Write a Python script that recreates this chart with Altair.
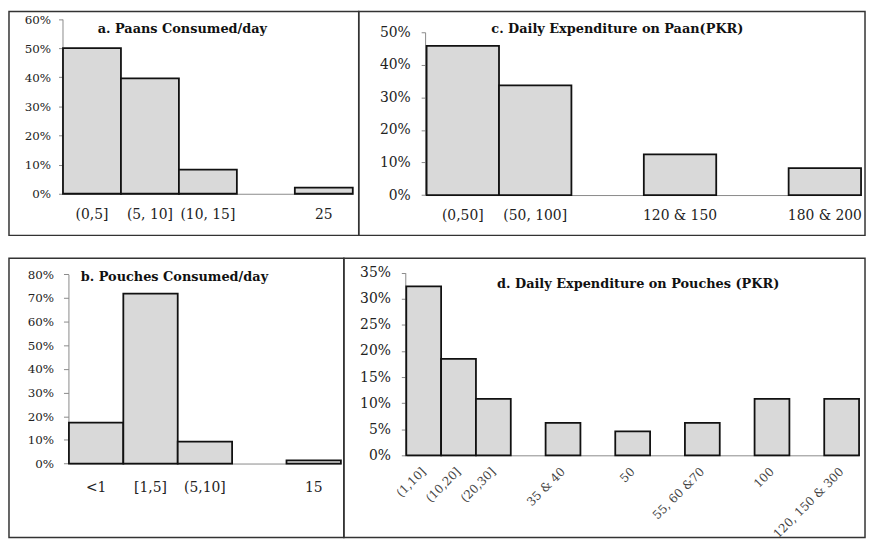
import altair as alt
import pandas as pd

FONT = "DejaVu Serif"

# ---- data -------------------------------------------------------------
a_slots = ["(0,5]", "(5, 10]", "(10, 15]", " ", "25"]
a_cats = ["(0,5]", "(5, 10]", "(10, 15]", "25"]
a_vals = [0.500, 0.396, 0.083, 0.021]
a_ticks = [0, 0.1, 0.2, 0.3, 0.4, 0.5, 0.6]
a_title = "a. Paans Consumed/day"

c_slots = ["(0,50]", "(50, 100]", " ", "120 & 150", "  ", "180 & 200"]
c_cats = ["(0,50]", "(50, 100]", "120 & 150", "180 & 200"]
c_vals = [0.458, 0.337, 0.125, 0.083]
c_ticks = [0, 0.1, 0.2, 0.3, 0.4, 0.5]
c_title = "c. Daily Expenditure on Paan(PKR)"

b_slots = ["<1", "[1,5]", "(5,10]", " ", "15"]
b_cats = ["<1", "[1,5]", "(5,10]", "15"]
b_vals = [0.173, 0.718, 0.093, 0.013]
b_ticks = [0, 0.1, 0.2, 0.3, 0.4, 0.5, 0.6, 0.7, 0.8]
b_title = "b. Pouches Consumed/day"

d_slots = ["(1,10]", "(10,20]", "(20,30]", " ", "35 & 40", "  ", "50", "   ",
           "55, 60 &70", "    ", "100", "     ", "120, 150 & 300"]
d_cats = ["(1,10]", "(10,20]", "(20,30]", "35 & 40", "50", "55, 60 &70", "100",
          "120, 150 & 300"]
d_vals = [0.324, 0.185, 0.108, 0.062, 0.046, 0.062, 0.108, 0.108]
d_ticks = [0, 0.05, 0.10, 0.15, 0.20, 0.25, 0.30, 0.35]
d_title = "d. Daily Expenditure on Pouches (PKR)"


def panel(slots, cats, vals, ticks, title, W, H, xr, yr, yaxis_x, title_xy,
          ytick, ypad, ysize, xpad, xsize, xangle=0, xcolor="#222"):
    df = pd.DataFrame({"cat": cats, "val": vals})
    xax = dict(title=None, ticks=False, tickSize=0, offset=-(H - yr[0]),
               labelPadding=xpad, labelFont=FONT, labelFontSize=xsize,
               labelColor=xcolor, domainColor="#8a8a8a", domainWidth=1,
               labelAngle=xangle, labelOverlap=False)
    if xangle:
        xax.update(labelAlign="right", labelBaseline="middle")
    bars = alt.Chart(df).mark_bar(fill="#d9d9d9", stroke="#111", strokeWidth=1.8).encode(
        x=alt.X("cat:N", sort=slots,
                scale=alt.Scale(domain=slots, range=xr, paddingInner=0, paddingOuter=0),
                axis=alt.Axis(**xax)),
        y=alt.Y("val:Q",
                scale=alt.Scale(domain=[0, ticks[-1]], range=yr, nice=False),
                axis=alt.Axis(title=None, values=ticks, format=".0%", grid=False,
                              offset=-yaxis_x, tickSize=ytick, labelPadding=ypad,
                              labelFont=FONT, labelFontSize=ysize, labelColor="#222",
                              domainColor="#8a8a8a", tickColor="#8a8a8a",
                              labelOverlap=False)),
    )
    txt = alt.Chart(pd.DataFrame({"t": [title]})).mark_text(
        font=FONT, fontWeight="bold", fontSize=13, align="center",
        baseline="middle", color="#111").encode(
        x=alt.value(title_xy[0]), y=alt.value(title_xy[1]), text="t:N")
    return alt.layer(bars, txt).properties(width=W, height=H)


HB = 282
pa = panel(a_slots, a_cats, a_vals, a_ticks, a_title, 353, 226,
           [54.5, 347], [184, 7.7], 54, (175, 18), 4, 8, 12, 14, 14)
pc = panel(c_slots, c_cats, c_vals, c_ticks, c_title, 511, 226,
           [68.5, 507], [185.3, 21], 67, (261, 18), 4, 11, 14, 14, 14)
pb = panel(b_slots, b_cats, b_vals, b_ticks, b_title, 338, HB,
           [60.5, 335], [207.3, 16.3], 60, (167, 19), 5, 10, 12, 17, 14)
pd_ = panel(d_slots, d_cats, d_vals, d_ticks, d_title, 526, HB,
            [63, 520], [199, 14.7], 62, (297, 26), 4, 11, 14, 14, 12,
            xangle=-45, xcolor="#444")

top = alt.hconcat(pa, pc, spacing=0, bounds="flush")
bottom = alt.hconcat(pb, pd_, spacing=0, bounds="flush")
chart = alt.vconcat(top, bottom, spacing=21).properties(
    padding=0, background="white"
).configure_view(stroke="#333", strokeWidth=1.5)

chart.save("out.html", embed_options={"renderer": "svg", "actions": False})
